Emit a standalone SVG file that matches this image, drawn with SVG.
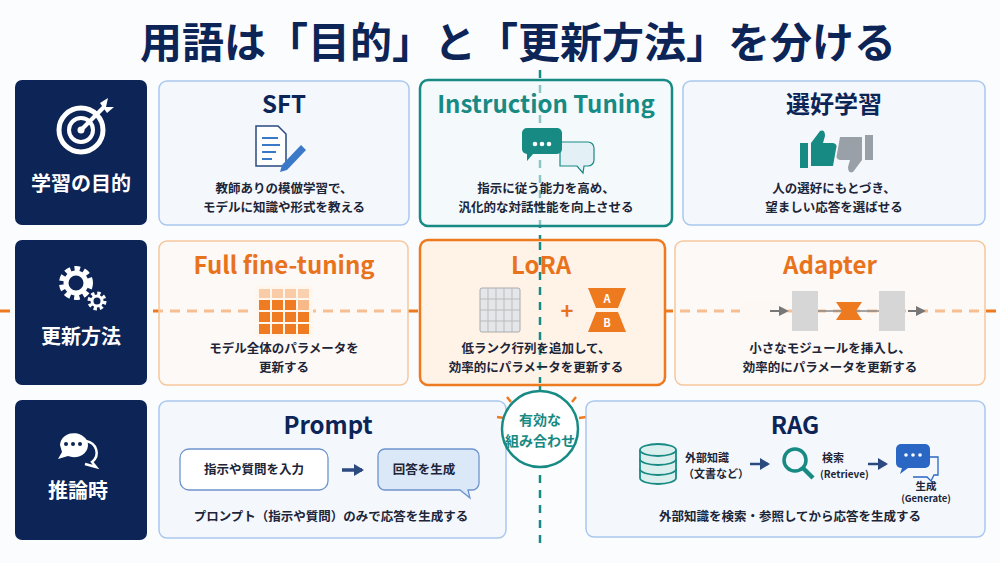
<svg xmlns="http://www.w3.org/2000/svg" width="1000" height="563" viewBox="0 0 1000 563">
<defs>
<style>
text{font-family:"Noto Sans CJK JP","Noto Sans",sans-serif;font-weight:bold}
.side{fill:#0c2456}
.sl{fill:#fff;font-size:20px;text-anchor:middle}
.blue{fill:#eef4fc;fill-opacity:.55;stroke:#a9c8ee;stroke-width:1.5}
.or{fill:#fff6ee;fill-opacity:.55;stroke:#f6c79c;stroke-width:1.5}
.h{font-size:24px;text-anchor:middle}
.d{font-size:12.5px;fill:#1d2538;text-anchor:middle}
.nv{fill:#0c2456}
.og{fill:#e8731c}
.tl{fill:#178a84}
</style>
<marker id="ag" markerUnits="userSpaceOnUse" markerWidth="10" markerHeight="10" refX="8" refY="5" orient="auto"><path d="M0,0L10,5L0,10z" fill="#777"/></marker>
<marker id="an" markerUnits="userSpaceOnUse" markerWidth="10" markerHeight="12" refX="8" refY="6" orient="auto"><path d="M0,0L10,6L0,12z" fill="#2a4a80"/></marker>
</defs>
<rect width="1000" height="563" fill="#fbfcfe"/>
<text x="518" y="58" font-size="42" class="nv" text-anchor="middle">用語は「目的」と「更新方法」を分ける</text>

<g id="connectors">
<line x1="0" y1="311" x2="1000" y2="311" stroke="#ee7a20" stroke-width="3" stroke-dasharray="10,7"/>
<line x1="540" y1="70" x2="540" y2="548" stroke="#178a84" stroke-width="2.5" stroke-dasharray="8,7"/>
</g>

<g id="side-purpose"><rect x="15" y="80" width="132" height="145" rx="7" class="side"/>
<circle cx="81" cy="130" r="22" fill="none" stroke="#fff" stroke-width="5"/><circle cx="81" cy="130" r="12" fill="none" stroke="#fff" stroke-width="4"/><circle cx="81" cy="130" r="3.5" fill="#fff"/>
<line x1="81" y1="130" x2="105" y2="106" stroke="#fff" stroke-width="4"/><path d="M100,103l8-5l-2,9l8,0l-7,6z" fill="#fff"/>
<text x="81" y="191" class="sl">学習の目的</text></g>
<g id="side-update"><rect x="15" y="240" width="132" height="145" rx="7" class="side"/>
<circle cx="76" cy="283" r="13" fill="none" stroke="#fff" stroke-width="8" stroke-dasharray="5,3.5"/><circle cx="76" cy="283" r="10" fill="none" stroke="#fff" stroke-width="5"/>
<circle cx="97" cy="301" r="7" fill="none" stroke="#fff" stroke-width="5" stroke-dasharray="3,2.5"/><circle cx="97" cy="301" r="5" fill="none" stroke="#fff" stroke-width="3"/>
<text x="81" y="344" class="sl">更新方法</text></g>
<g id="side-infer"><rect x="15" y="400" width="132" height="140" rx="7" class="side"/>
<path d="M86,441a13,12 0 0 1 6,21l4,5l-11,-3" fill="none" stroke="#fff" stroke-width="2.5"/>
<path d="M60,445a14,12 0 1 1 8,11l-10,3l4,-7z" fill="#fff"/><circle cx="66" cy="444" r="2" fill="#0c2456"/><circle cx="73" cy="444" r="2" fill="#0c2456"/><circle cx="80" cy="444" r="2" fill="#0c2456"/>
<text x="78" y="498" class="sl">推論時</text></g>

<g id="sft"><rect x="159" y="81" width="250" height="144" rx="8" class="blue"/>
<text x="284" y="113" class="h nv">SFT</text>
<path d="M256,126h22l8,8v32h-30z" fill="#fff" stroke="#2a4a80" stroke-width="1.5"/><path d="M262,138h16M262,145h18M262,152h14M262,159h10" stroke="#3a78c8" stroke-width="2"/>
<path d="M282,165l19-20l5,5l-19,20l-7,2z" fill="#3a78c8"/>
<text x="284" y="193" class="d">教師ありの模倣学習で、</text><text x="284" y="212" class="d">モデルに知識や形式を教える</text></g>
<g id="instruction"><rect x="420" y="80" width="252" height="146" rx="8" fill="#eef6f8" fill-opacity=".55" stroke="#178a84" stroke-width="2.5"/>
<text x="546" y="113" class="h tl">Instruction Tuning</text>
<path d="M560,142h28a6,6 0 0 1 6,6v12a6,6 0 0 1-6,6h-4l-1,7l-6-7h-17z" fill="#dbeef5" fill-opacity=".7" stroke="#178a84" stroke-width="1.2"/>
<path d="M526,128h31a5,5 0 0 1 5,5v16a5,5 0 0 1-5,5h-24l-6,7l0-7a5,5 0 0 1-5-5v-16a5,5 0 0 1 5-5z" fill="#178a84"/>
<circle cx="535" cy="144" r="2.3" fill="#fff"/><circle cx="542" cy="144" r="2.3" fill="#fff"/><circle cx="549" cy="144" r="2.3" fill="#fff"/>
<text x="546" y="193" class="d">指示に従う能力を高め、</text><text x="546" y="212" class="d">汎化的な対話性能を向上させる</text></g>
<g id="preference"><rect x="683" y="81" width="302" height="144" rx="8" class="blue"/>
<text x="834" y="113" class="h nv">選好学習</text>
<rect x="800" y="143" width="8" height="25" fill="#178a84"/><path d="M811,143l9-12q5-2,5,5l-2,7h10q5,1,3,6l-3,17h-22z" fill="#178a84"/>
<rect x="865" y="135" width="8" height="25" fill="#9aa0a8"/><path d="M862,160l-9,12q-5,2-5-5l2-7h-10q-5-1-3-6l3-17h22z" fill="#9aa0a8"/>
<text x="834" y="193" class="d">人の選好にもとづき、</text><text x="834" y="212" class="d">望ましい応答を選ばせる</text></g>

<g id="full"><rect x="159" y="241" width="249" height="144" rx="8" class="or"/>
<text x="284" y="274" class="h og">Full fine-tuning</text>
<rect x="255" y="286" width="58" height="51" fill="#fff6ee"/>
<g fill="#ef7c22"><rect x="259" y="289" width="11" height="9" opacity=".35"/><rect x="272" y="289" width="11" height="9" opacity=".35"/><rect x="285" y="289" width="11" height="9" opacity=".35"/><rect x="298" y="289" width="11" height="9" opacity=".3"/>
<rect x="259" y="300" width="11" height="10"/><rect x="272" y="300" width="11" height="10"/><rect x="285" y="300" width="11" height="10"/><rect x="298" y="300" width="11" height="10" opacity=".5"/>
<rect x="259" y="312" width="11" height="10"/><rect x="272" y="312" width="11" height="10"/><rect x="285" y="312" width="11" height="10"/><rect x="298" y="312" width="11" height="10"/>
<rect x="259" y="324" width="11" height="10"/><rect x="272" y="324" width="11" height="10"/><rect x="285" y="324" width="11" height="10"/><rect x="298" y="324" width="11" height="10"/></g>
<text x="284" y="353" class="d">モデル全体のパラメータを</text><text x="284" y="372" class="d">更新する</text></g>
<g id="lora"><rect x="420" y="240" width="245" height="145" rx="8" fill="#fff3e8" stroke="#ee7a20" stroke-width="2.5"/>
<line x1="540" y1="242" x2="540" y2="383" stroke="#178a84" stroke-width="2.5" stroke-dasharray="8,7"/>
<text x="541" y="274" class="h og">LoRA</text>
<rect x="480" y="288" width="40" height="44" rx="2" fill="#e4e6ea" stroke="#aaa"/><path d="M480,299h40M480,310h40M480,321h40M488,288v44M496,288v44M504,288v44M512,288v44" stroke="#bbb"/>
<text x="567" y="319" font-size="22" class="og" text-anchor="middle">+</text>
<path d="M588,288h38l-8,20h-22z" fill="#ee7a20"/><path d="M596,312h22l8,20h-38z" fill="#ee7a20"/>
<text x="607" y="303" font-size="11" fill="#fff" text-anchor="middle">A</text><text x="607" y="327" font-size="11" fill="#fff" text-anchor="middle">B</text>
<text x="536" y="353" class="d">低ランク行列を追加して、</text><text x="536" y="372" class="d">効率的にパラメータを更新する</text></g>
<g id="adapter"><rect x="675" y="241" width="310" height="144" rx="8" class="or"/>
<text x="830" y="274" class="h og">Adapter</text>
<rect x="740" y="301" width="48" height="20" fill="#fdf8f3"/>
<line x1="770" y1="311" x2="787" y2="311" stroke="#777" stroke-width="2" marker-end="url(#ag)"/>
<rect x="792" y="291" width="26" height="40" fill="#d6d6d6"/><rect x="879" y="291" width="26" height="40" fill="#d6d6d6"/>
<line x1="818" y1="311" x2="879" y2="311" stroke="#888" stroke-width="1.5"/>
<path d="M836,302h26l-6,9l6,9h-26l6-9z" fill="#ee7a20"/>
<rect x="906" y="301" width="16" height="20" fill="#fdf8f3"/>
<line x1="908" y1="311" x2="924" y2="311" stroke="#777" stroke-width="2" marker-end="url(#ag)"/>
<text x="830" y="353" class="d">小さなモジュールを挿入し、</text><text x="830" y="372" class="d">効率的にパラメータを更新する</text></g>

<g id="prompt"><rect x="159" y="401" width="347" height="137" rx="8" class="blue"/>
<text x="328" y="434" class="h nv">Prompt</text>
<rect x="180" y="449" width="148" height="41" rx="9" fill="#fff" stroke="#6d94cc" stroke-width="1.3"/>
<text x="254" y="474" font-size="12.5" fill="#1d2538" text-anchor="middle">指示や質問を入力</text>
<line x1="342" y1="470" x2="362" y2="470" stroke="#2a4a80" stroke-width="3.5" marker-end="url(#an)"/>
<path d="M385,449h87a7,7 0 0 1 7,7v27a7,7 0 0 1-7,7h-4l2,8l-10-8h-75a7,7 0 0 1-7-7v-27a7,7 0 0 1 7-7z" fill="#dbe8f8" stroke="#6d94cc" stroke-width="1.3"/>
<text x="424" y="474" font-size="12.5" fill="#1d2538" text-anchor="middle">回答を生成</text>
<text x="331" y="521" class="d">プロンプト（指示や質問）のみで応答を生成する</text></g>

<g id="combo">
<path d="M507,397l4,5M497,417l7,1M576,397l-4,5M586,417l-7,1" stroke="#ee7a20" stroke-width="2.5"/>
<circle cx="540" cy="429" r="38" fill="#fff" stroke="#178a84" stroke-width="2.5"/>
<text x="540" y="425" font-size="14" class="tl" text-anchor="middle">有効な</text><text x="540" y="446" font-size="14" class="tl" text-anchor="middle">組み合わせ</text></g>

<g id="rag"><rect x="586" y="401" width="399" height="136" rx="8" class="blue"/>
<text x="795" y="434" class="h nv">RAG</text>
<g fill="#dcefef" stroke="#178a84" stroke-width="1.8"><path d="M640,450v28a18,6 0 0 0 36,0v-28"/><ellipse cx="658" cy="450" rx="18" ry="6"/><path d="M640,459a18,6 0 0 0 36,0M640,469a18,6 0 0 0 36,0"/></g>
<text x="685" y="462" font-size="11" fill="#1d2538">外部知識</text><text x="683" y="478" font-size="11" fill="#1d2538">（文書など）</text>
<line x1="750" y1="464" x2="768" y2="464" stroke="#2a4a80" stroke-width="2.5" marker-end="url(#an)"/>
<circle cx="795" cy="460" r="11" fill="none" stroke="#178a84" stroke-width="3.5"/><line x1="803" y1="468" x2="813" y2="478" stroke="#178a84" stroke-width="4.5"/>
<text x="822" y="462" font-size="11" fill="#1d2538">検索</text><text x="820" y="478" font-size="10" fill="#1d2538">(Retrieve)</text>
<line x1="868" y1="464" x2="886" y2="464" stroke="#2a4a80" stroke-width="2.5" marker-end="url(#an)"/>
<path d="M928,457h10v18h-4l-3,6l-4-4h-14" fill="none" stroke="#2a66c4" stroke-width="1.3"/>
<rect x="896" y="444" width="34" height="24" rx="5" fill="#2a66c4"/><path d="M902,468l-2,6l8-6z" fill="#2a66c4"/>
<circle cx="906" cy="455" r="1.8" fill="#fff"/><circle cx="913" cy="455" r="1.8" fill="#fff"/><circle cx="920" cy="455" r="1.8" fill="#fff"/>
<text x="926" y="490" font-size="10.5" fill="#1d2538" text-anchor="middle">生成</text><text x="926" y="502" font-size="9.5" font-weight="normal" fill="#1d2538" text-anchor="middle">(Generate)</text>
<text x="790" y="521" class="d">外部知識を検索・参照してから応答を生成する</text></g>
</svg>
